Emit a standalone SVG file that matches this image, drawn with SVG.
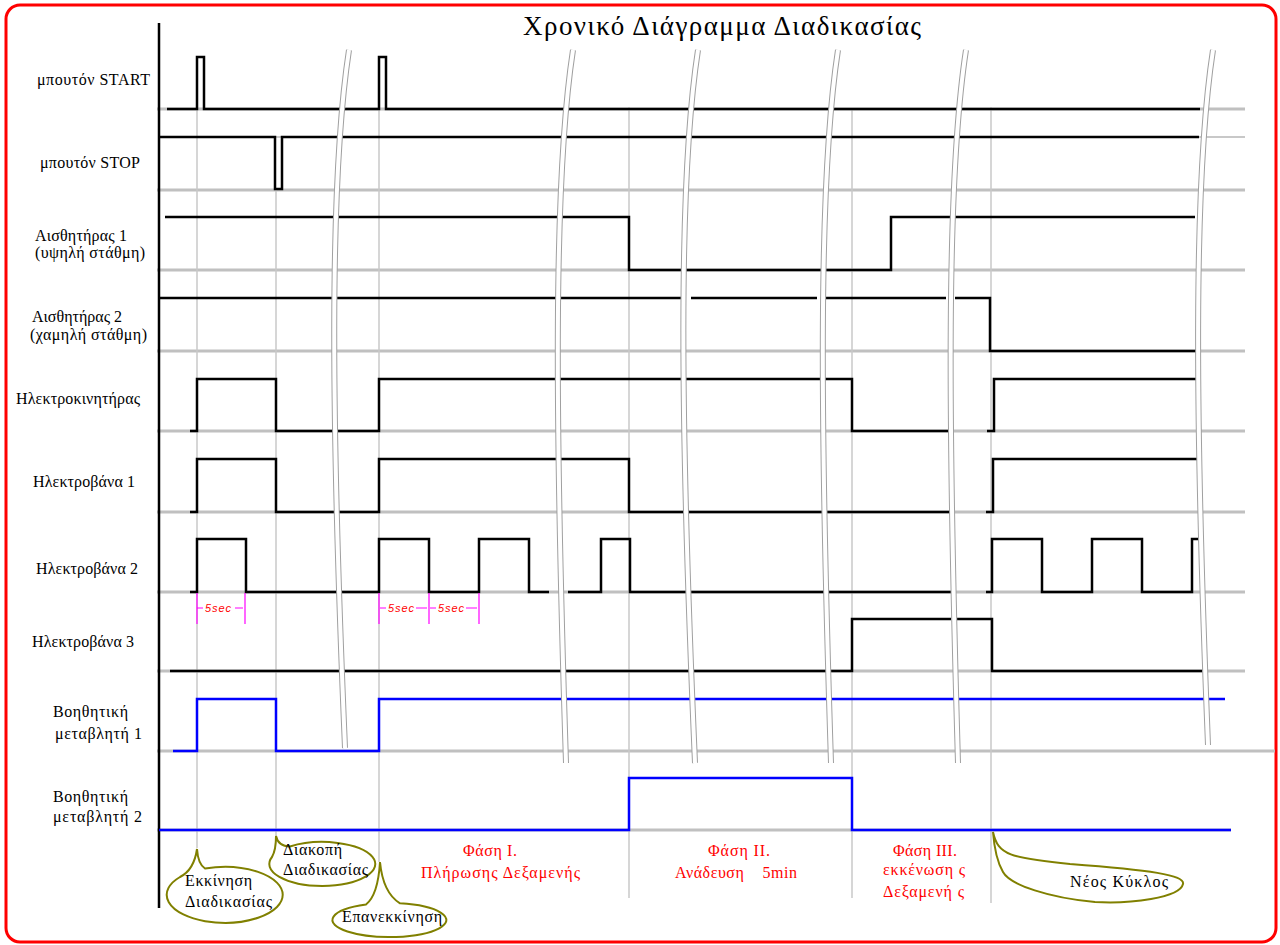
<svg xmlns="http://www.w3.org/2000/svg" width="1280" height="945" viewBox="0 0 1280 945">
<defs>
<style>
.lbl{font-family:"Liberation Serif","DejaVu Serif",serif;font-size:16px;fill:#000}
.red{font-family:"Liberation Serif","DejaVu Serif",serif;font-size:16px;fill:#ff0000}
.sec{font-family:"Liberation Sans","DejaVu Sans",sans-serif;font-size:11px;font-style:italic;fill:#ff0000}
.base{stroke:#c0c0c0;stroke-width:3;fill:none}
.thin{stroke:#c8c8c8;stroke-width:2;fill:none}
.ev{stroke:#c8c8c8;stroke-width:1.5;fill:none}
.sig{stroke:#000;stroke-width:2.5;fill:none;stroke-linejoin:miter}
.blue{stroke:#0000ff;stroke-width:2.5;fill:none}
.mag{stroke:#ff00ff;stroke-width:1.2;fill:none}
.brkO{stroke:#a0a0a0;stroke-width:6;fill:none}
.brkI{stroke:#ffffff;stroke-width:4;fill:none}
.call{stroke:#808000;stroke-width:2;fill:#ffffff}
</style>
</defs>
<rect x="0" y="0" width="1280" height="945" fill="#ffffff"/>
<rect x="6" y="5" width="1270" height="937" rx="14" fill="none" stroke="#ff0000" stroke-width="3"/>
<text x="722" y="35" text-anchor="middle" font-family="Liberation Serif, DejaVu Serif, serif" font-size="27" textLength="398">Χρονικό Διάγραμμα Διαδικασίας</text>

<g id="grid">
<line class="base" x1="157" y1="109" x2="1245" y2="109"/>
<line class="thin" x1="159" y1="137" x2="1245" y2="137"/>
<line class="base" x1="157" y1="190" x2="1245" y2="190"/>
<line class="base" x1="157" y1="270" x2="1245" y2="270"/>
<line class="base" x1="157" y1="351" x2="1245" y2="351"/>
<line class="base" x1="157" y1="431" x2="1245" y2="431"/>
<line class="base" x1="157" y1="512" x2="1245" y2="512"/>
<line class="base" x1="157" y1="592" x2="1245" y2="592"/>
<line class="base" x1="157" y1="671" x2="1245" y2="671"/>
<line class="base" x1="157" y1="751" x2="1275" y2="751"/>
<line class="base" x1="157" y1="830" x2="1231" y2="830"/>
</g>

<g id="events">
<line class="ev" x1="197" y1="110" x2="197" y2="848"/>
<line class="ev" x1="276" y1="190" x2="276" y2="836"/>
<line class="ev" x1="379" y1="110" x2="379" y2="862"/>
<line class="ev" x1="629" y1="107" x2="629" y2="898"/>
<line class="ev" x1="852" y1="108" x2="852" y2="898"/>
<line class="ev" x1="991" y1="107" x2="991" y2="903"/>
</g>

<line id="axis" x1="159" y1="23" x2="159" y2="908" stroke="#000" stroke-width="2.5"/>

<g id="start">
<text class="lbl" x="37" y="85" textLength="113">μπουτόν START</text>
<path class="sig" d="M167,109 H197 V57 H204 V109 H379 V57 H386 V109 H1200"/>
</g>
<g id="stop">
<text class="lbl" x="40" y="168" textLength="100">μπουτόν STOP</text>
<path class="sig" d="M159,137 H275 V189 H282 V137 H1199"/>
</g>
<g id="sensor1">
<text class="lbl" x="35" y="241" textLength="92">Αισθητήρας 1</text>
<text class="lbl" x="35" y="258" textLength="110">(υψηλή στάθμη)</text>
<path class="sig" d="M165,217 H629 V270 H891 V217 H1195"/>
</g>
<g id="sensor2">
<text class="lbl" x="32" y="322" textLength="90">Αισθητήρας 2</text>
<text class="lbl" x="30" y="340" textLength="117">(χαμηλή στάθμη)</text>
<path class="sig" d="M159,298 H682 M691,298 H817 M824,298 H946 M955,298 H990 V351 H1196"/>
</g>
<g id="motor">
<text class="lbl" x="16" y="404" textLength="124">Ηλεκτροκινητήρας</text>
<path class="sig" d="M190,431 H197 V379 H276 V431 H379 V379 H852 V431 H948 M987,431 H994 V379 H1197"/>
</g>
<g id="valve1">
<text class="lbl" x="33" y="487" textLength="102">Ηλεκτροβάνα 1</text>
<path class="sig" d="M190,512 H197 V459 H276 V512 H379 V459 H629 V512 H951 M986,512 H993 V459 H1199"/>
</g>
<g id="valve2">
<text class="lbl" x="36" y="574" textLength="102">Ηλεκτροβάνα 2</text>
<path class="sig" d="M190,592 H197 V539 H246 V592 H379 V539 H429 V592 H479 V539 H529 V592 H549 M568,592 H601 V539 H630 V592 H952 M986,592 H992 V539 H1042 V592 H1092 V539 H1142 V592 H1192 V539 H1198"/>
</g>
<g id="timing">
<path class="mag" d="M197,593 V624 M245,593 V624 M197,608 H203 M235,608 H243 M379,593 V624 M429,593 V624 M479,593 V624 M380,608 H386 M416,608 H427 M430,608 H436 M466,608 H477"/>
<text class="sec" x="205" y="612" textLength="26">5sec</text>
<text class="sec" x="388" y="612" textLength="26">5sec</text>
<text class="sec" x="438" y="612" textLength="26">5sec</text>
</g>
<g id="valve3">
<text class="lbl" x="32" y="647" textLength="102">Ηλεκτροβάνα 3</text>
<path class="sig" d="M170,671 H852 V619 H951 M957,619 H992 V671 H1202"/>
</g>
<g id="aux1">
<text class="lbl" x="53" y="717" textLength="75">Βοηθητική</text>
<text class="lbl" x="55" y="739" textLength="87">μεταβλητή 1</text>
<path class="blue" d="M173,751 H197 V699 H276 V751 H379 V699 H1225"/>
</g>
<g id="aux2">
<text class="lbl" x="53" y="802" textLength="75">Βοηθητική</text>
<text class="lbl" x="53" y="822" textLength="89">μεταβλητή 2</text>
<path class="blue" d="M159,830 H629 V778 H852 V830 H1231"/>
</g>

<g id="breaks">
<path class="brkO" d="M349,50 C329,180 331,420 345,748"/>
<path class="brkI" d="M349,50 C329,180 331,420 345,748"/>
<path class="brkO" d="M573,50 C553,180 555,420 566,763"/>
<path class="brkI" d="M573,50 C553,180 555,420 566,763"/>
<path class="brkO" d="M698,50 C678,180 680,420 695,763"/>
<path class="brkI" d="M698,50 C678,180 680,420 695,763"/>
<path class="brkO" d="M838,50 C818,180 820,420 831,763"/>
<path class="brkI" d="M838,50 C818,180 820,420 831,763"/>
<path class="brkO" d="M966,50 C946,180 948,420 958,763"/>
<path class="brkI" d="M966,50 C946,180 948,420 958,763"/>
<path class="brkO" d="M1213,50 C1193,180 1195,420 1208,745"/>
<path class="brkI" d="M1213,50 C1193,180 1195,420 1208,745"/>
</g>

<g id="phases">
<text class="red" x="463" y="856" textLength="54">Φάση Ι.</text>
<text class="red" x="421" y="878" textLength="159">Πλήρωσης Δεξαμενής</text>
<text class="red" x="708" y="856" textLength="62">Φάση ΙΙ.</text>
<text class="red" x="675" y="878" textLength="122" xml:space="preserve">Ανάδευση    5min</text>
<text class="red" x="893" y="856" textLength="64">Φάση ΙΙΙ.</text>
<text class="red" x="883" y="875" textLength="82">εκκένωση ς</text>
<text class="red" x="883" y="897" textLength="81">Δεξαμενή ς</text>
</g>

<g id="callout-start">
<path class="call" d="M180,877 Q194,870 197,849 Q198,864 205,868.5 A58 28 0 1 1 180,877 Z"/>
<text class="lbl" x="185" y="886" textLength="67">Εκκίνηση</text>
<text class="lbl" x="185" y="907" textLength="87">Διαδικασίας</text>
</g>
<g id="callout-stop">
<path class="call" d="M272,857 Q276,850 276,836 Q278,846 290,846.5 A53 22 0 1 1 272,857 Z"/>
<text class="lbl" x="283" y="855" textLength="59">Διακοπή</text>
<text class="lbl" x="283" y="875" textLength="85">Διαδικασίας</text>
</g>
<g id="callout-restart">
<path class="call" d="M366,904.5 Q378,895 380,862 Q383,893 400,903.3 A57 17 0 1 1 366,904.5 Z"/>
<text class="lbl" x="342" y="922" textLength="100">Επανεκκίνηση</text>
</g>
<g id="callout-new">
<path class="call" d="M993,832 C998,855 1010,858 1070,864 C1150,870 1185,875 1183,884 C1180,898 1130,904 1095,902 C1050,898 1010,885 1003,872 C996,860 994,845 993,832 Z"/>
<text class="lbl" x="1070" y="887" textLength="98">Νέος Κύκλος</text>
</g>
</svg>
